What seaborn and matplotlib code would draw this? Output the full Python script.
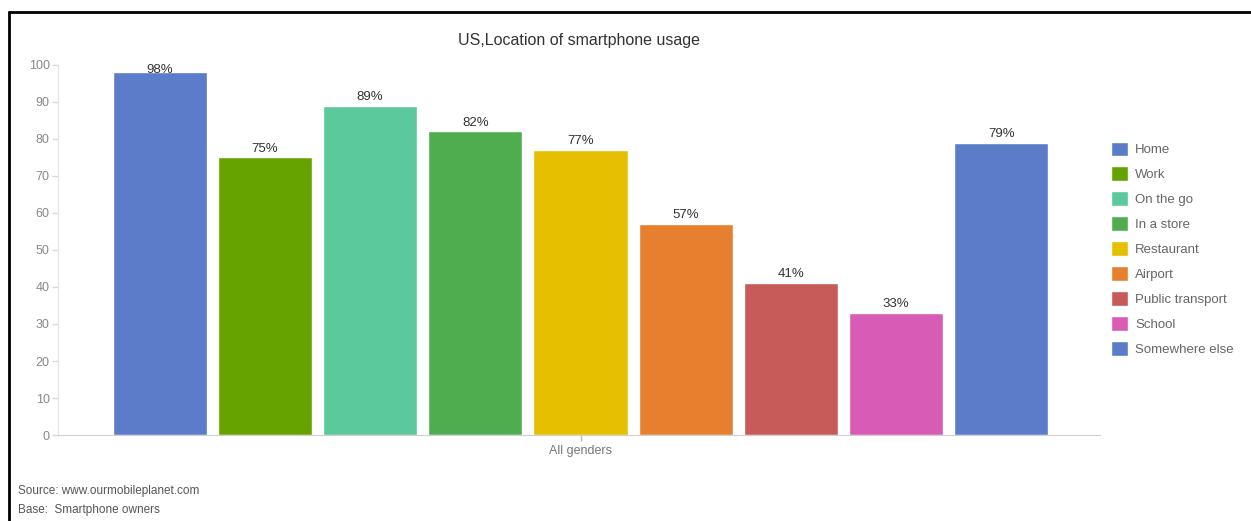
""" US location of smartphone usage - grouped bar chart """

import numpy as np
import pandas as pd
import matplotlib.pyplot as plt
import seaborn as sns
from matplotlib.lines import Line2D

# data
locations = ['Home', 'Work', 'On the go', 'In a store', 'Restaurant',
             'Airport', 'Public transport', 'School', 'Somewhere else']
usage = [98, 75, 89, 82, 77, 57, 41, 33, 79]
group = 'All genders'
colors = ['#5b7cc9', '#66a300', '#5bc99b', '#4fad50', '#e6c000',
          '#e6802f', '#c75b5a', '#d85bb5', '#5b7cc9']

df = pd.DataFrame({'group': [group] * len(locations),
                   'location': locations,
                   'usage': usage})

sns.set_style('white')
plt.rcParams['font.family'] = ['Liberation Sans', 'DejaVu Sans']

fig = plt.figure(figsize=(12.51, 5.21), dpi=100)
ax = fig.add_axes([0.0464, 0.165, 0.8328, 0.7105])

sns.barplot(data=df, x='group', y='usage', hue='location',
            hue_order=locations, palette=dict(zip(locations, colors)),
            width=0.909, gap=0.106, saturation=1, ax=ax, legend=True)

ax.set_xlim(-0.5015, 0.4985)
ax.set_ylim(0, 100)
ax.set_yticks(np.arange(0, 101, 10))
ax.set_xlabel('')
ax.set_ylabel('')

# axis styling
for side in ['top', 'right']:
    ax.spines[side].set_visible(False)
ax.spines['left'].set_color('#e2e2e2')
ax.spines['bottom'].set_color('#cfcfcf')
ax.tick_params(axis='y', colors='#d8d8d8', labelcolor='#888888',
               labelsize=9, length=4, width=1, left=True, pad=2)
ax.tick_params(axis='x', colors='#bbbbbb', labelcolor='#777777',
               labelsize=9, length=4, width=1, bottom=True, pad=3)

# value labels
for cont, v in zip(ax.containers, usage):
    bar = cont[0]
    xc = bar.get_x() + bar.get_width() / 2
    ax.annotate(f'{v}%', (xc, min(v, 96.3)), xytext=(0, 2),
                textcoords='offset points', ha='center', va='bottom',
                fontsize=9.5, color='#333333', annotation_clip=False)

ax.set_title('US,Location of smartphone usage', fontsize=11.5,
             color='#333333', pad=14)

# legend
sns.move_legend(ax, 'upper left', bbox_to_anchor=(0.999, 0.825),
                frameon=False, title=None, fontsize=9.5,
                handlelength=1.3, handleheight=1.35, labelspacing=0.77,
                handletextpad=0.55)
for t in ax.get_legend().get_texts():
    t.set_color('#666666')

# source notes
fig.text(0.0144, 0.058, 'Source: www.ourmobileplanet.com', fontsize=8.5,
         color='#555555', va='center')
fig.text(0.0144, 0.021, 'Base:  Smartphone owners', fontsize=8.5,
         color='#555555', va='center')

# frame lines of the screenshot
fig.add_artist(Line2D([0.0072, 1.0], [0.977, 0.977], color='black', lw=2,
                      transform=fig.transFigure))
fig.add_artist(Line2D([0.0072, 0.0072], [0.0, 0.977], color='black', lw=2,
                      transform=fig.transFigure))

plt.savefig('out.png', dpi=100)
